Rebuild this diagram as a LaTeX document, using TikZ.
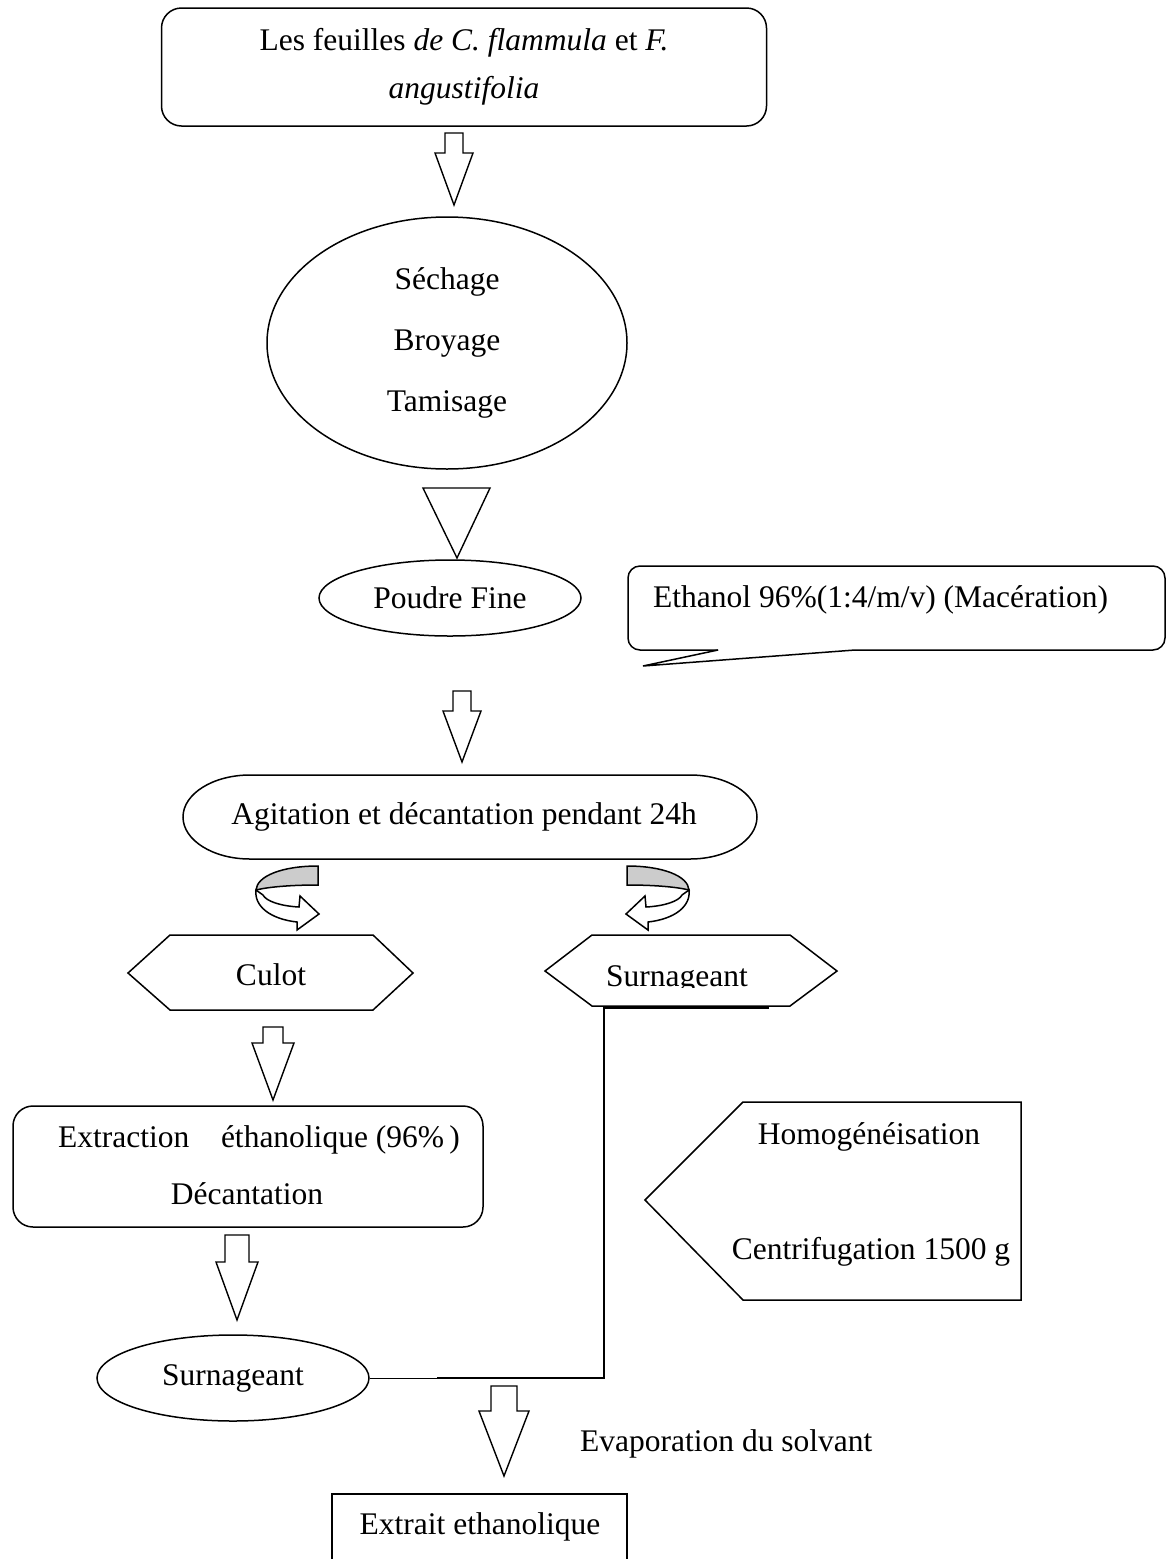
\documentclass[tikz,border=0pt]{standalone}
\usepackage{fontspec}
\setmainfont{Liberation Serif}
\usetikzlibrary{shapes.geometric}

\tikzset{
  txt/.style={font=\fontsize{31.5}{38}\selectfont, inner sep=0pt},
  shp/.style={draw, line width=1.5pt, fill=white},
  blk/.style={draw, line width=1.4pt, fill=white, line join=miter},
}

% down block arrow: x, top, shaft half width, head half width, head top, tip
\newcommand{\blockarrow}[6]{%
  \draw[blk] (#1-#3,#2) -- (#1+#3,#2) -- (#1+#3,#5) -- (#1+#4,#5) -- (#1,#6) -- (#1-#4,#5) -- (#1-#3,#5) -- cycle;}

% twisted ribbon arrow
\newcommand{\twist}{%
  \filldraw[line width=1.5pt, fill=gray!40] (318,866) .. controls (282,866) and (257,876) .. (256,890) .. controls (268,887) and (290,885) .. (318,885) -- cycle;
  \filldraw[line width=1.5pt, fill=white, line join=miter] (256,890) .. controls (254,906) and (270,919) .. (297,922) -- (297,930) -- (319,914) -- (300,896) -- (299,907) .. controls (280,906) and (266,901) .. (263,895) -- cycle;}

\begin{document}
\begin{tikzpicture}[x=1pt,y=-1pt]
	\useasboundingbox (0,0) rectangle (1171,1559);

	\node[shp, rounded corners=20pt, minimum width=605pt, minimum height=118pt, txt, align=center, font=\fontsize{31.5}{48}\selectfont] (feuilles) at (464,67) {Les feuilles \textit{de C. flammula} et \textit{F.}\\ \textit{angustifolia}};
	\blockarrow{454}{133}{9}{19}{153}{205}

	\node[shp, ellipse, minimum width=360pt, minimum height=252pt, txt, align=center, font=\fontsize{31.5}{61}\selectfont] (sechage) at (447,343) {Séchage\\Broyage\\Tamisage};
	\draw[blk] (423,488) -- (490,488) -- (457,558) -- cycle;

	\node[shp, ellipse, minimum width=262pt, minimum height=76pt, txt] (poudre) at (450,598) {Poudre Fine};

	% callout
	\draw[line width=1.5pt, rounded corners=12pt] (718,650) -- (628,650) -- (628,566) -- (1165,566) -- (1165,650) -- (855,650);
	\draw[line width=1.5pt] (718,650) -- (643,666) -- (855,650);
	\node[txt, anchor=west] (ethanol) at (653,600) {Ethanol 96\%(1:4/m/v) (Macération)};

	\blockarrow{462}{691}{9}{19}{711}{762}

	\draw[shp] (250,775) -- (690,775) arc[start angle=90, end angle=-90, x radius=67pt, y radius=42pt] -- (250,859) arc[start angle=270, end angle=90, x radius=67pt, y radius=42pt] -- cycle;
	\node[txt] (agitation) at (464,817) {Agitation et décantation pendant 24h};

	\twist
	\begin{scope}[xshift=945pt, xscale=-1]
		\twist
	\end{scope}

	\draw[shp] (128,973) -- (170,935) -- (373,935) -- (413,973) -- (373,1010) -- (170,1010) -- cycle;
	\node[txt, anchor=base] (culot) at (271,985) {Culot};
	\draw[shp] (545,971) -- (592,935) -- (790,935) -- (837,971) -- (790,1006) -- (592,1006) -- cycle;
	\begin{scope}
		\clip (545,930) rectangle (837,987);
		\node[txt, anchor=base] (surn1) at (677,986) {Surnageant};
	\end{scope}

	\blockarrow{273}{1027}{10}{21}{1043}{1100}

	\draw[shp, rounded corners=20pt] (13,1106) rectangle (483,1227);
	\node[txt, anchor=base west] (extr) at (58,1147) {Extraction};
	\node[txt, anchor=base east] (ethq) at (460,1147) {éthanolique (96\%\,)};
	\node[txt, anchor=base] (decant) at (247,1204) {Décantation};

	\blockarrow{237}{1235}{12}{21}{1262}{1320}
	\node[shp, ellipse, minimum width=272pt, minimum height=86pt, txt] (surn2) at (233,1378) {Surnageant};

	\draw[shp] (645,1200) -- (743,1102) -- (1021,1102) -- (1021,1300) -- (743,1300) -- cycle;
	\node[txt] (homog) at (869,1137) {Homogénéisation};
	\node[txt] (centri) at (871,1252) {Centrifugation 1500 g};

	\coordinate (jn) at (437,1378);
	\coordinate (cr) at (604,1378);
	\coordinate (ct) at (604,1008);
	\coordinate (ce) at (769,1008);
	\draw[line width=0.8pt] (surn2.east) -- (jn);
	\draw[line width=1.8pt] (jn) -- (cr) -- (ct) -- (ce);

	\blockarrow{504}{1386}{13}{25}{1411}{1476}
	\node[txt, anchor=west] (evap) at (580,1444) {Evaporation du solvant};

	\draw[shp] (332,1494) rectangle (627,1575);
	\node[txt] (extrait) at (480,1527) {Extrait ethanolique};

\end{tikzpicture}
\end{document}
